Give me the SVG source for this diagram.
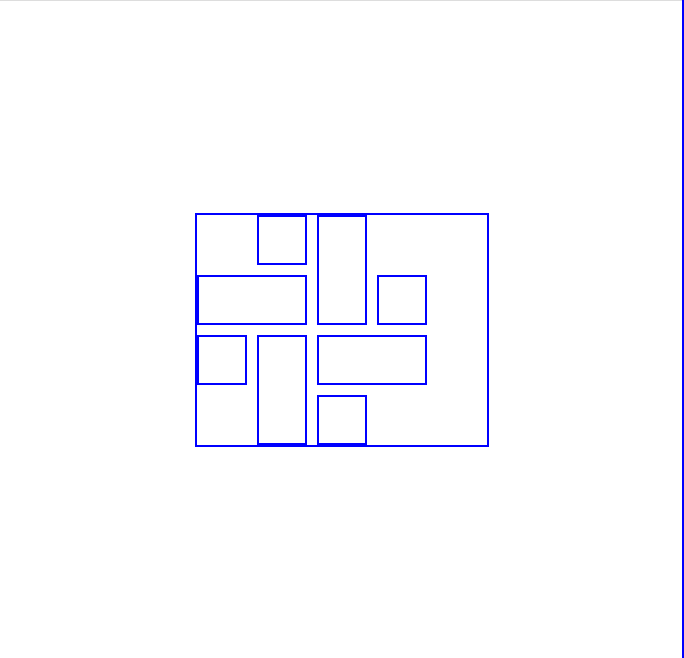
<svg xmlns="http://www.w3.org/2000/svg" width="684" height="658" viewBox="0 0 684 658">
  <style>
    .box { fill: none; stroke: #0000ff; stroke-width: 2; }
  </style>
  <rect x="0" y="0" width="684" height="658" fill="#ffffff"/>
  <rect x="0" y="0" width="682" height="1" fill="#dddddd"/>
  <rect x="682" y="0" width="2" height="658" fill="#0000ff"/>
  <g id="container">
    <rect class="box" x="196" y="214" width="292" height="232"/>
  </g>
  <g id="n1"><rect class="box" x="258" y="216" width="48" height="48"/></g>
  <g id="n2"><rect class="box" x="318" y="216" width="48" height="108"/></g>
  <g id="n3"><rect class="box" x="198" y="276" width="108" height="48"/></g>
  <g id="n4"><rect class="box" x="378" y="276" width="48" height="48"/></g>
  <g id="n5"><rect class="box" x="198" y="336" width="48" height="48"/></g>
  <g id="n6"><rect class="box" x="258" y="336" width="48" height="108"/></g>
  <g id="n7"><rect class="box" x="318" y="336" width="108" height="48"/></g>
  <g id="n8"><rect class="box" x="318" y="396" width="48" height="48"/></g>
  <g id="connectors"></g>
</svg>
